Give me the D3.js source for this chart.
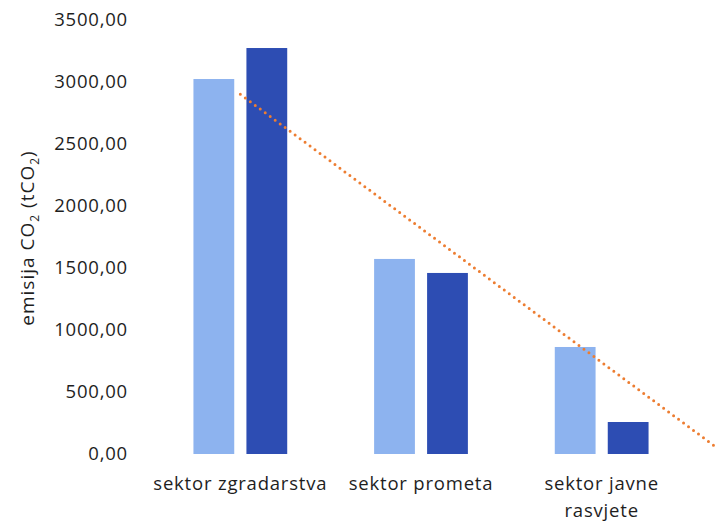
<!DOCTYPE html>
<meta charset="utf-8" />
<script src="https://d3js.org/d3.v7.min.js"></script>
<style>
  body { margin: 0; background: #fff; }
  text { font-family: "Open Sans", sans-serif; fill: #1e1e1e; }
</style>
<body>
  <div id="my_dataviz"></div>
</body>
<script>
  // categories and the two series (tCO2)
  var categories = ["sektor zgradarstva", "sektor prometa", "sektor javne rasvjete"];
  var seriesNames = ["a", "b"];
  var seriesA = [3024, 1573, 863];
  var seriesB = [3274, 1460, 258];
  var yTicks = [0, 500, 1000, 1500, 2000, 2500, 3000, 3500];

  var W = 716, H = 529;
  var colors = { a: "#8db3ef", b: "#2d4db3" };

  var svg = d3.select("#my_dataviz").append("svg")
    .attr("width", W).attr("height", H);

  var x0 = d3.scaleBand().domain(categories).range([150, 692]);
  var x1 = d3.scaleBand().domain(seriesNames).range([0, x0.bandwidth()])
    .paddingInner(0.23).paddingOuter(0.82);
  var y = d3.scaleLinear().domain([0, 3500]).range([454, 20]);

  var locale = d3.formatLocale({ decimal: ",", thousands: "", grouping: [3], currency: ["", ""] });
  var fmt = locale.format(".2f");

  // y axis (labels only)
  var yAxis = svg.append("g")
    .attr("transform", "translate(140,0)")
    .call(d3.axisLeft(y).tickValues(yTicks).tickFormat(fmt).tickSize(0).tickPadding(12));
  yAxis.select(".domain").remove();
  yAxis.selectAll("text")
    .style("font-size", "18.5px")
    .style("font-family", "Open Sans")
    .style("letter-spacing", "0.8px")
    .attr("fill", "#1e1e1e");

  // axis title with subscripts
  var title = svg.append("text")
    .attr("transform", "translate(34,238) rotate(-90)")
    .attr("text-anchor", "middle")
    .style("font-size", "19px")
    .style("letter-spacing", "1px");
  title.append("tspan").text("emisija CO");
  title.append("tspan").text("2").attr("dy", 5).style("font-size", "12px");
  title.append("tspan").text(" (tCO").attr("dy", -5);
  title.append("tspan").text("2").attr("dy", 5).style("font-size", "12px");
  title.append("tspan").text(")").attr("dy", -5);

  // bars
  var rows = categories.map(function (c, i) {
    return { cat: c, values: [{ key: "a", value: seriesA[i] }, { key: "b", value: seriesB[i] }] };
  });
  var groups = svg.selectAll(".grp").data(rows).enter().append("g")
    .attr("transform", function (d) { return "translate(" + x0(d.cat) + ",0)"; });
  groups.selectAll("rect").data(function (d) { return d.values; }).enter().append("rect")
    .attr("x", function (d) { return x1(d.key); })
    .attr("width", x1.bandwidth())
    .attr("y", function (d) { return y(d.value); })
    .attr("height", function (d) { return y(0) - y(d.value); })
    .attr("fill", function (d) { return colors[d.key]; });

  // category labels (wrapped)
  categories.forEach(function (c) {
    var cx = x0(c) + x0.bandwidth() / 2;
    var t = svg.append("text").attr("text-anchor", "middle")
      .style("font-size", "18.5px").style("letter-spacing", "0.8px");
    var lines = c === "sektor javne rasvjete" ? ["sektor javne", "rasvjete"] : [c];
    lines.forEach(function (l, k) {
      t.append("tspan").attr("x", cx).attr("y", 490 + k * 27).text(l);
    });
  });

  // linear trendline of first series
  var n = seriesA.length;
  var xs = d3.range(n);
  var mx = d3.mean(xs), my = d3.mean(seriesA);
  var slope = d3.sum(xs, function (i) { return (i - mx) * (seriesA[i] - my); }) /
    d3.sum(xs, function (i) { return (i - mx) * (i - mx); });
  var icpt = my - slope * mx;
  var xi = d3.scaleLinear().domain([0, n - 1])
    .range([x0(categories[0]) + x0.bandwidth() / 2, x0(categories[n - 1]) + x0.bandwidth() / 2]);
  var trend = [0, 3.8].map(function (i) { return [xi(i), y(icpt + slope * i)]; });
  svg.append("path")
    .attr("d", d3.line()(trend))
    .attr("fill", "none")
    .attr("stroke", "#ed7d31")
    .attr("stroke-width", 3)
    .attr("stroke-linecap", "round")
    .attr("stroke-dasharray", "0,6.2");
</script>
